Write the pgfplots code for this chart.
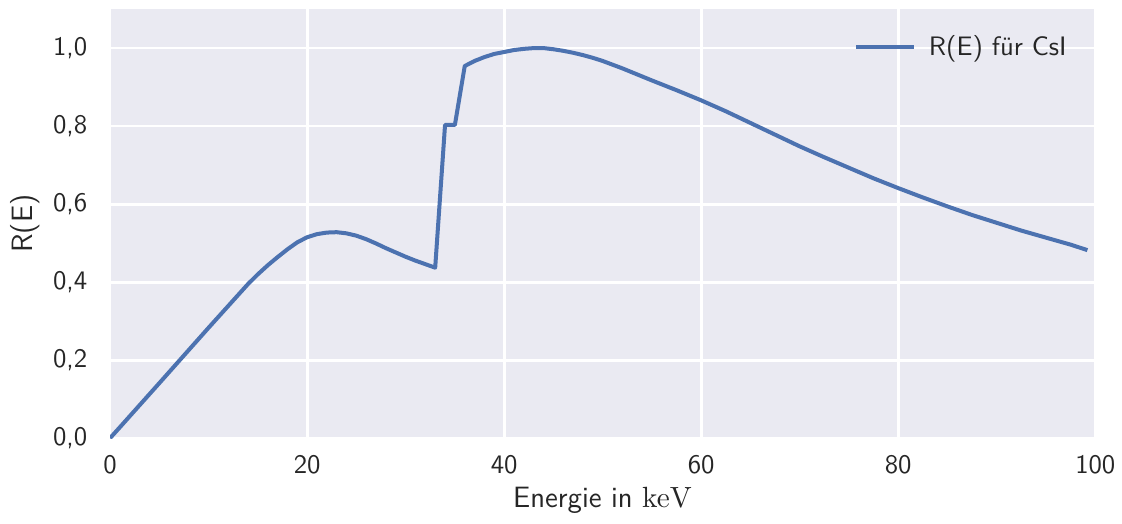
\documentclass[border=0pt]{standalone}
\usepackage{pgfplots}
\pgfplotsset{compat=1.18}
\definecolor{bgc}{HTML}{EAEAF2}
\definecolor{linec}{HTML}{4C72B0}
\definecolor{txt}{HTML}{262626}
\begin{document}
\begin{tikzpicture}
\useasboundingbox (-41.2pt,-31.8pt) rectangle (378.8pt,164pt);
\begin{axis}[
  scale only axis,
  width=368.8pt, height=160.6pt,
  xmin=0, xmax=100, ymin=0, ymax=1.1,
  axis background/.style={fill=bgc},
  axis line style={draw=none},
  grid=major,
  major grid style={white, line width=1.05pt},
  major tick length=0pt,
  xtick={0,20,40,60,80,100},
  ytick={0,0.2,0.4,0.6,0.8,1.0},
  /pgf/number format/assume math mode=true,
  /pgf/number format/.cd, use comma, fixed, fixed zerofill, precision=1,
  /pgfplots/.cd,
  xticklabel={\pgfmathprintnumber[fixed, precision=0, fixed zerofill=false]{\tick}},
  tick label style={font=\sffamily\fontsize{10}{12}\selectfont, text=txt},
  xticklabel style={yshift=-3pt},
  yticklabel style={xshift=-5pt},
  xlabel={Energie in $\mathrm{keV}$},
  ylabel={R(E)},
  label style={font=\sffamily\fontsize{11}{13}\selectfont, text=txt},
  xlabel style={yshift=2pt},
  ylabel style={yshift=-2pt},
  legend style={draw=none, fill=none, at={(0.985,0.965)}, anchor=north east,
    font=\sffamily\fontsize{10}{12}\selectfont, text=txt,
    /tikz/every even column/.append style={column sep=0pt}},
  legend image code/.code={\draw[#1] (0pt,0pt) -- (21.5pt,0pt);},
  legend cell align=left,
]
\addplot[linec, line width=1.5pt, line join=round] coordinates {
(0,0) (1,0.028) (5,0.141) (10,0.283) (14,0.395) (15,0.42) (16,0.443) (17,0.464)
(18,0.484) (19,0.502) (20,0.515) (21,0.523) (22,0.527) (23,0.528) (24,0.525)
(25,0.519) (26,0.510) (27,0.499) (28,0.487) (29,0.476) (30,0.465) (31,0.455)
(32,0.446) (33,0.437) (34,0.803) (35,0.803) (36,0.954) (37,0.967) (38,0.977)
(39,0.985) (40,0.990) (41,0.995) (42,0.998) (43,1.0) (44,1.0) (45,0.997)
(46,0.993) (47,0.988) (48,0.982) (49,0.975) (50,0.967) (52,0.948) (55,0.917)
(57.5,0.892) (60,0.866) (62.5,0.838) (65,0.808) (67.5,0.778) (70,0.748)
(72.5,0.720) (75,0.693) (77.5,0.666) (80,0.641) (82.5,0.617) (85,0.594)
(87.5,0.572) (90,0.552) (92.5,0.532) (95,0.514) (97.5,0.496) (99.2,0.482)
};
\addlegendentry{\hspace{3pt}R(E) für CsI}
\end{axis}
\end{tikzpicture}
\end{document}
